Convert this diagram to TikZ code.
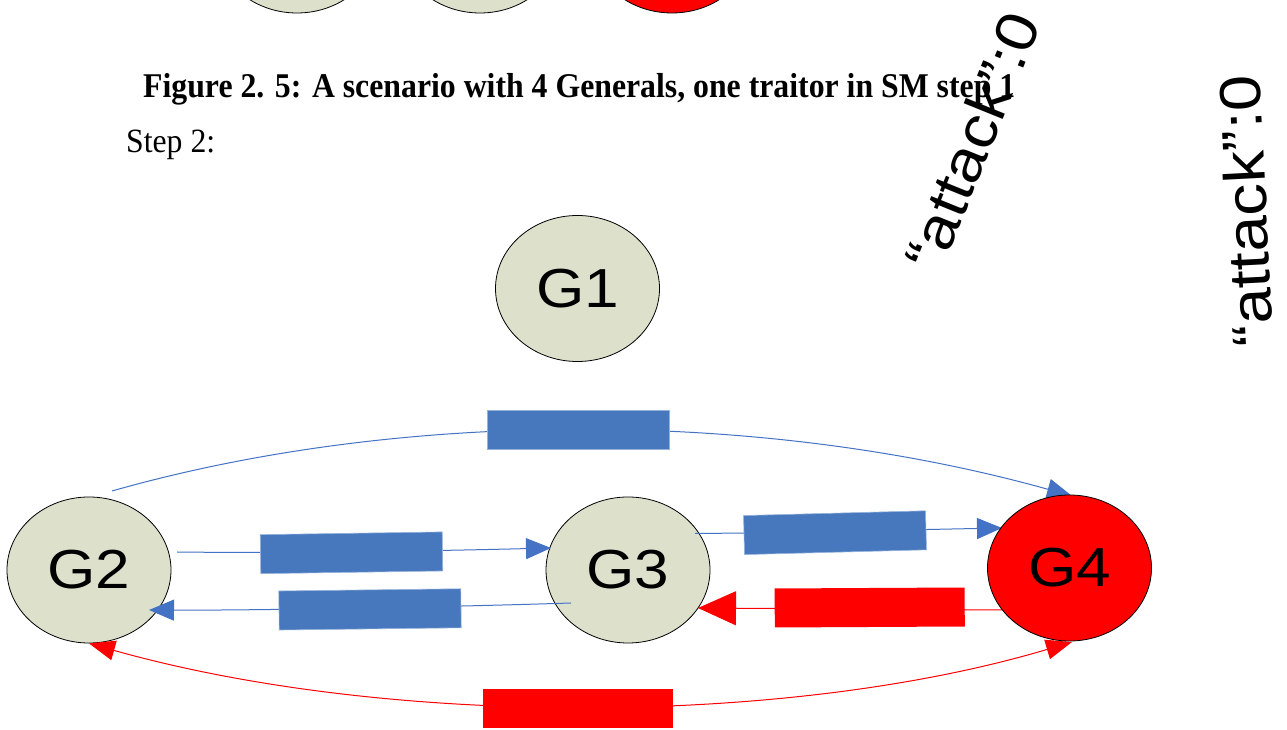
\documentclass[tikz,border=0pt]{standalone}
\usepackage{graphicx}
\usepackage{fontspec}
\setmainfont{Liberation Serif}
\newfontfamily\arialf{Liberation Sans}
\usetikzlibrary{shapes.geometric,arrows.meta}
\definecolor{genfill}{RGB}{221,225,204}
\definecolor{msgblue}{RGB}{71,120,190}
\definecolor{lineblue}{RGB}{68,114,196}
\definecolor{rimblue}{RGB}{150,178,220}
\definecolor{traitor}{RGB}{255,0,0}
\pgfdeclarelayer{front}
\pgfsetlayers{main,front}
\newcommand\genlabel[1]{\scalebox{1.13}[1]{#1}}
\newcommand\attacktext{\scalebox{1.12}[1]{“attack”:0}}

\begin{document}
\begin{tikzpicture}[x=1pt,y=1pt,
  general/.style={ellipse, draw=black, line width=0.8pt, fill=genfill,
    minimum width=164pt, minimum height=146pt, inner sep=0pt,
    font=\arialf\fontsize{55}{55}\selectfont},
  traitorgen/.style={general, fill=traitor},
  bluemsg/.style={draw=lineblue, line width=1pt, -{Triangle[length=25pt,width=21pt]}},
  redmsg/.style={draw=traitor, line width=1pt},
  bluebox/.style={rectangle, fill=msgblue, draw=rimblue, line width=0.6pt,
    minimum width=182pt, minimum height=39pt, inner sep=0pt},
  redbox/.style={rectangle, fill=traitor, minimum width=190pt,
    minimum height=39pt, inner sep=0pt},
  attacklabel/.style={font=\arialf\fontsize{58}{58}\selectfont, inner sep=0pt},
]
\clip (0,0) rectangle (1287,730);
\fill[white] (0,0) rectangle (1287,730);

% generals of the previous step, cut by the top edge
\node[general] (prevA) at (297,790) {};
\node[general] (prevB) at (480,790) {};
\node[traitorgen] (prevC) at (672,790) {};

% caption and heading
\node[anchor=base west, inner sep=0pt, font=\bfseries\fontsize{34.7}{40}\selectfont] (caption) at (143,632)
  {\resizebox{872pt}{\height}{Figure 2. 5: A scenario with 4 Generals, one traitor in SM step 1}};
\node[anchor=base west, inner sep=0pt, font=\fontsize{34}{40}\selectfont] (steplabel) at (126,577)
  {\resizebox{89pt}{\height}{Step 2:}};

% rotated message texts
\node[attacklabel, rotate=68] (attA) at (972,589) {\attacktext};
\node[attacklabel, rotate=93] (attB) at (1246,519) {\attacktext};

% generals
\node[general] (G1) at (577.5,441.5) {\genlabel{G1}};
\node[general] (G2) at (89,160) {\genlabel{G2}};
\node[general] (G3) at (628,160) {\genlabel{G3}};
\begin{pgfonlayer}{front}
\node[traitorgen] (G4) at (1069.5,162) {\genlabel{G4}};
\end{pgfonlayer}

% messages
\draw[bluemsg] ([shift={(23,79)}]G2.center) .. controls (400,321) and (760,321) .. ([shift={(2.5,72)}]G4.center);
\draw[bluemsg] ([shift={(88,18)}]G2.center) .. controls (300,176.5) and (450,179.5) .. ([shift={(-77,22)}]G3.center);
\draw[bluemsg] ([shift={(-57,-33)}]G3.center) .. controls (450,123) and (250,119.5) .. ([shift={(60,-40)}]G2.center);
\draw[bluemsg] ([shift={(67,36.7)}]G3.center) .. controls (750,196.3) and (900,200) .. ([shift={(-67.5,40)}]G4.center);
\draw[redmsg, -{Triangle[length=38pt,width=34pt]}] ([shift={(-67.5,-42)}]G4.center) -- ([shift={(70,-38)}]G3.center);
\draw[redmsg, {Triangle[length=26pt,width=20pt]}-{Triangle[length=26pt,width=20pt]}]
  (G2.south) .. controls (390,2) and (790,4) .. ([shift={(2.5,-74)}]G4.center);

% message boxes
\node[bluebox] (m1) at (578.3,300.3) {};
\node[bluebox, rotate=0.85] (m2) at (351.5,177.2) {};
\node[bluebox, rotate=0.7] (m3) at (370,120.6) {};
\node[bluebox, rotate=1.5] (m4) at (835,197.3) {};
\node[redbox, rotate=0.3] (m5) at (869.7,122.5) {};
\node[redbox] (m6) at (578.4,21.2) {};
\end{tikzpicture}
\end{document}
